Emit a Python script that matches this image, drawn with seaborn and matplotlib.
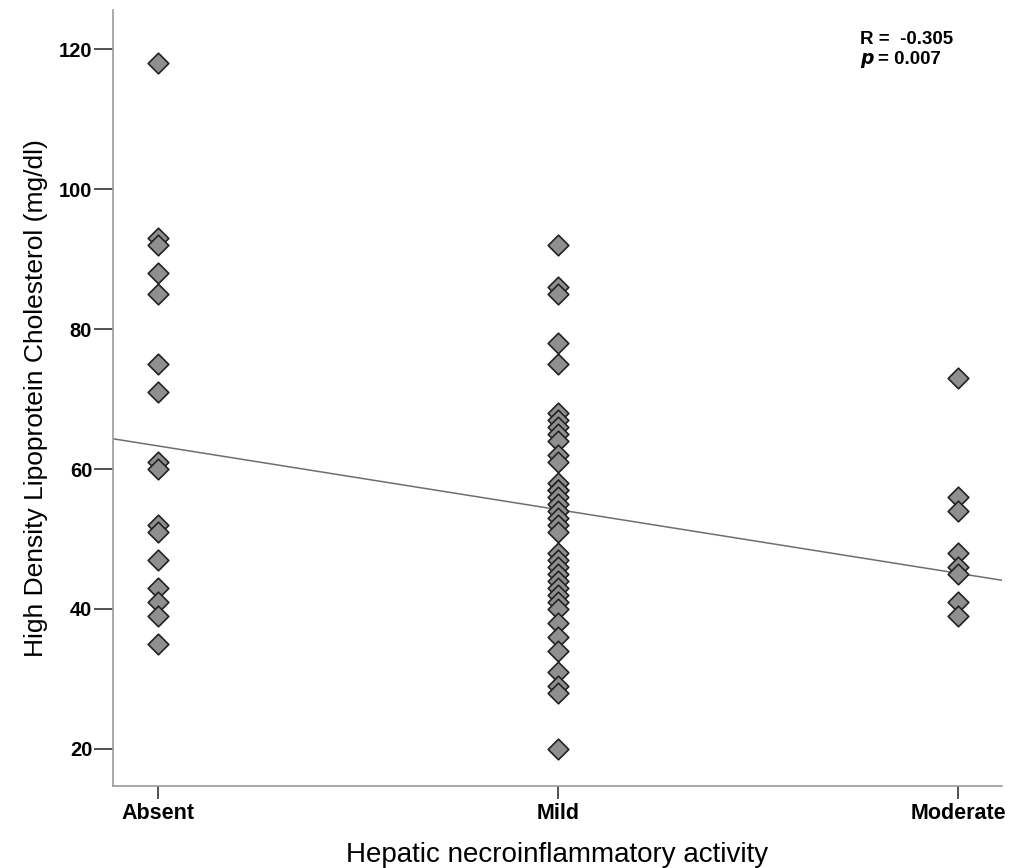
import numpy as np
import pandas as pd
import matplotlib
matplotlib.use("Agg")
import matplotlib.pyplot as plt
import seaborn as sns

# Données
categories = ["Absent", "Mild", "Moderate"]
hdl_absent = [118, 93, 92, 88, 85, 75, 71, 61, 60, 52, 51, 47, 43, 41, 39, 35]
hdl_mild = [92, 86, 85, 78, 75, 68, 67, 66, 65, 64, 62, 61, 58, 57, 57, 56, 55,
            54, 53, 52, 51, 48, 47, 46, 45, 44, 43, 42, 41, 40, 38, 36, 34, 31,
            29, 28, 20]
hdl_moderate = [73, 56, 54, 48, 46, 45, 41, 39]
y_ticks = [20, 40, 60, 80, 100, 120]

# droite de régression
fit_intercept = 72.4
fit_slope = -9.1
r_text = "R =  -0.305"
p_text = "0.007"

sns.set_style("ticks")
plt.rcParams['font.family'] = ['Liberation Sans', 'DejaVu Sans']
plt.rcParams['text.color'] = 'black'
plt.rcParams['axes.labelcolor'] = 'black'
plt.rcParams['xtick.color'] = 'black'
plt.rcParams['ytick.color'] = 'black'

df = pd.DataFrame({
    "activity": [1] * len(hdl_absent) + [2] * len(hdl_mild) + [3] * len(hdl_moderate),
    "hdl": hdl_absent + hdl_mild + hdl_moderate,
})

fig = plt.figure(figsize=(10.18, 8.68), dpi=100)
ax = fig.add_axes([113 / 1018, 1 - 786 / 868, (1002 - 113) / 1018, (786 - 10) / 868])

xlim = (0.8875, 3.11)
xs = np.array(xlim)
ax.plot(xs, fit_intercept + fit_slope * xs, color="#6e6e6e", linewidth=1.1, zorder=1)

sns.scatterplot(data=df, x="activity", y="hdl", marker="D", s=110,
                color="#8f8f8f", edgecolor="#222222", linewidth=1.2,
                ax=ax, zorder=3, legend=False)

ax.set_xlim(*xlim)
ax.set_ylim(14.7, 125.6)
ax.set_xticks([1, 2, 3])
ax.set_xticklabels(categories, fontweight="bold", fontsize=15.5)
ax.set_yticks(y_ticks)
ax.set_yticklabels([str(v) for v in y_ticks], fontweight="bold", fontsize=14.5)

for side in ["top", "right"]:
    ax.spines[side].set_visible(False)
for side in ["left", "bottom"]:
    ax.spines[side].set_color("#9a9a9a")
    ax.spines[side].set_linewidth(1.2)

ax.tick_params(axis="y", length=14, width=1.2, color="#333333", pad=1,
               direction="out", left=True)
ax.tick_params(axis="x", length=9, width=1.2, color="#333333", pad=3,
               direction="out", bottom=True)

ax.set_xlabel("Hepatic necroinflammatory activity", fontsize=20, labelpad=13)
ax.set_ylabel("High Density Lipoprotein Cholesterol (mg/dl)", fontsize=19,
              labelpad=8)

fig.text(860 / 1018, 1 - 40 / 868, r_text, fontweight="bold", fontsize=13.5,
         ha="left", va="center")
fig.text(860 / 1018, 1 - 60 / 868, "$\\mathbfit{p}$", fontsize=13.5,
         ha="left", va="center")
fig.text(878 / 1018, 1 - 60 / 868, "= " + p_text, fontweight="bold", fontsize=13.5,
         ha="left", va="center")

fig.savefig("out.png", dpi=100)
